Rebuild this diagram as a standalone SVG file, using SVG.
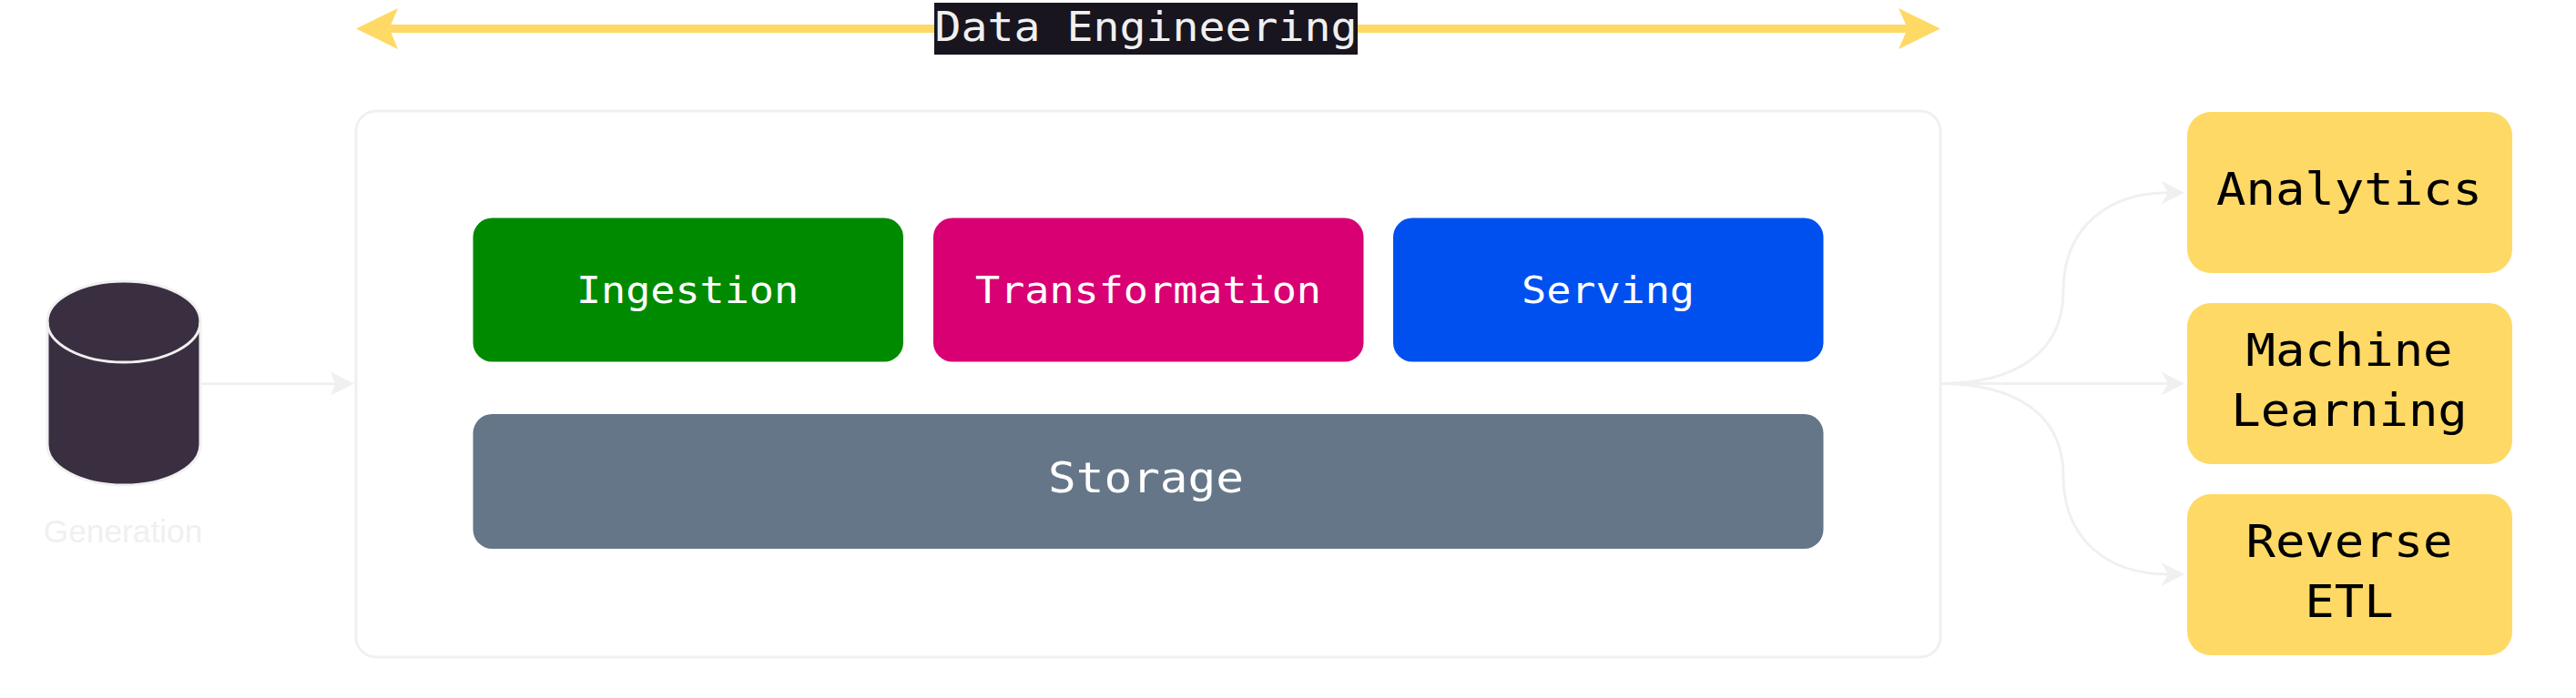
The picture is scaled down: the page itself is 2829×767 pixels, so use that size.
<svg xmlns="http://www.w3.org/2000/svg" width="2829" height="767" viewBox="0 0 2829 767">
<style>
.mono{font-family:"DejaVu Sans Mono","Liberation Mono",monospace;text-anchor:middle}
.w{fill:#fff;font-size:41px}
.s{fill:#fff;font-size:46.4px}
.k{fill:#000;font-size:49px}
.t{fill:#f0f0f0;font-size:43.8px}
.conn{fill:none;stroke:#f0f0f0;stroke-width:3}
.box{stroke:none}
</style>
<rect width="2829" height="767" fill="#fff"/>
<g id="connectors">
<path class="conn" d="M221 421.7H368"/>
<polygon fill="#f0f0f0" points="389,421.7 363,434.5 368,421.7 363,408.5"/>
<path class="conn" d="M2131 421.5H2381"/>
<polygon fill="#f0f0f0" points="2399,421.5 2373.5,434.5 2381,421.5 2373.5,408.5"/>
<path class="conn" d="M2131 421.5C2210 421.5 2266 390 2266 320C2266 250 2315 211.7 2381 211.7"/>
<polygon fill="#f0f0f0" points="2399,211.7 2373.5,224.5 2381,211.7 2373.5,198.7"/>
<path class="conn" d="M2131 421.5C2210 421.5 2266 453 2266 523C2266 593 2315 631 2381 631"/>
<polygon fill="#f0f0f0" points="2399,631 2373.5,644 2381,631 2373.5,618"/>
<path d="M428 31.5H2095" fill="none" stroke="#ffd966" stroke-width="9"/>
<polygon fill="#ffd966" points="391,31.5 437,9 427.6,31.5 437,54"/>
<polygon fill="#ffd966" points="2131,31.5 2085,9 2095,31.5 2085,54"/>
</g>
<g id="data-engineering-label">
<rect x="1026" y="3" width="465" height="57" fill="#18151f"/>
<text class="mono t" transform="translate(1258.5 45) scale(1.1 1)">Data Engineering</text>
</g>
<g id="generation">
<path d="M52 353.5V488.5A84 44.5 0 0 0 220 488.5V353.5A84 44.5 0 0 0 52 353.5Z" fill="#3a2f41" stroke="#f0f0f0" stroke-width="3"/>
<path d="M52 353.5A84 44.5 0 0 0 220 353.5" fill="none" stroke="#f0f0f0" stroke-width="3"/>
<text x="135" y="596" font-family="'Liberation Sans',Arial,sans-serif" font-size="35.3" fill="#f0f0f0" text-anchor="middle">Generation</text>
</g>
<g id="platform">
<rect x="391" y="122" width="1740" height="600" rx="22" ry="22" fill="#fff" stroke="#f0f0f0" stroke-width="3"/>
</g>
<g id="ingestion">
<rect class="box" x="519.5" y="239.5" width="472.5" height="158" rx="21" fill="#008a00"/>
<text class="mono w" transform="translate(755 332.5) scale(1.1 1)">Ingestion</text>
</g>
<g id="transformation">
<rect class="box" x="1025" y="239.5" width="472.5" height="158" rx="21" fill="#d80073"/>
<text class="mono w" transform="translate(1261 332.5) scale(1.1 1)">Transformation</text>
</g>
<g id="serving">
<rect class="box" x="1530" y="239.5" width="472.5" height="158" rx="21" fill="#0050ef"/>
<text class="mono w" transform="translate(1766 332.5) scale(1.1 1)">Serving</text>
</g>
<g id="storage">
<rect class="box" x="519.5" y="455" width="1483" height="148" rx="21" fill="#647687"/>
<text class="mono s" transform="translate(1258.5 540.5) scale(1.1 1)">Storage</text>
</g>
<g id="analytics">
<rect class="box" x="2402" y="123" width="357" height="177" rx="26" fill="#ffd966"/>
<text class="mono k" transform="translate(2580 225) scale(1.1 1)">Analytics</text>
</g>
<g id="machine-learning">
<rect class="box" x="2402" y="333" width="357" height="177" rx="26" fill="#ffd966"/>
<text class="mono k" transform="translate(2580 401.7) scale(1.1 1)">Machine</text>
<text class="mono k" transform="translate(2580 467.7) scale(1.1 1)">Learning</text>
</g>
<g id="reverse-etl">
<rect class="box" x="2402" y="543" width="357" height="177" rx="26" fill="#ffd966"/>
<text class="mono k" transform="translate(2580 611.7) scale(1.1 1)">Reverse</text>
<text class="mono k" transform="translate(2580 677.7) scale(1.1 1)">ETL</text>
</g>
</svg>
